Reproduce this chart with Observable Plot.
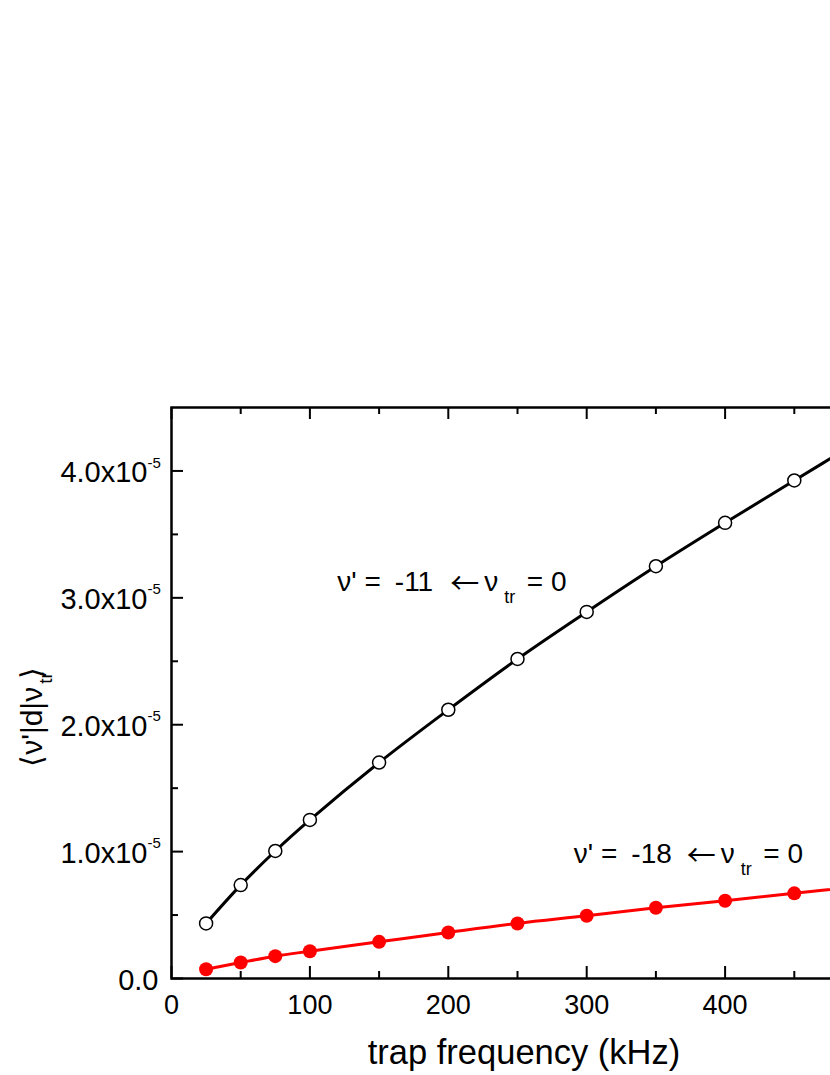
<!DOCTYPE html>
<html><head><meta charset="utf-8">
<script src="https://cdn.jsdelivr.net/npm/d3@7"></script>
<script src="https://cdn.jsdelivr.net/npm/@observablehq/plot@0.6"></script>
<style>
html,body{margin:0;padding:0;background:#fff;overflow:hidden;}
#wrap{width:830px;height:1075px;overflow:hidden;}
</style></head><body><div id="wrap"></div>
<script>
// ---- data (trap frequency in kHz, matrix element) ----
const freq = [25, 50, 75, 100, 150, 200, 250, 300, 350, 400, 450, 500];
const v11 = [0.434e-5, 0.736e-5, 1.005e-5, 1.25e-5, 1.702e-5, 2.118e-5, 2.518e-5, 2.889e-5, 3.249e-5, 3.591e-5, 3.925e-5, 4.255e-5];
const v18 = [0.073e-5, 0.126e-5, 0.176e-5, 0.215e-5, 0.289e-5, 0.363e-5, 0.434e-5, 0.494e-5, 0.557e-5, 0.613e-5, 0.671e-5, 0.732e-5];
const xMajor = [0, 100, 200, 300, 400, 500];
const xMinor = [50, 150, 250, 350, 450];
const xLabelTicks = [0, 100, 200, 300, 400];
const yMajor = [0, 1e-5, 2e-5, 3e-5, 4e-5];
const yMinor = [0.5e-5, 1.5e-5, 2.5e-5, 3.5e-5];
const yTickText = ["0.0", "1.0x10", "2.0x10", "3.0x10", "4.0x10"];
const yTickExp = "-5";
const label11 = ["\u03BD' =", "-11", "\u2190", "\u03BD", "tr", "= 0"];
const label18 = ["\u03BD' =", "-18", "\u2190", "\u03BD", "tr", "= 0"];
const yTitle = ["\u27E8\u03BD'|d|\u03BD", "tr", "\u27E9"];
const xTitle = "trap frequency (kHz)";

const s11 = freq.map((f, i) => ({f, v: v11[i]}));
const s18 = freq.map((f, i) => ({f, v: v18[i]}));

const W = 880, H = 1075, ML = 171, MR = 17, MT = 407, MB = 97;
const FW = W - ML - MR, FH = H - MT - MB;
const font = "'Liberation Sans', Arial, Helvetica, sans-serif";

function annotation(parts, x, y) {
  const offs = [0, 57.5, 113, 147, 167, 189.5];
  return parts.map((p, i) => Plot.text([p], {
    x: () => x, y: () => y, text: d => d,
    textAnchor: "start", lineAnchor: "bottom",
    fontSize: i === 4 ? 18 : i === 2 ? 29 : 28,
    fontFamily: i === 2 ? "'Noto Sans CJK SC', 'DejaVu Sans', sans-serif" : font,
    dx: offs[i], dy: i === 4 ? 11.7 : i === 2 ? 3 : 0, fill: "black"
  }));
}

const chart = Plot.plot({
  width: W, height: H,
  marginLeft: ML, marginRight: MR, marginTop: MT, marginBottom: MB,
  style: {fontFamily: font, background: "white", maxWidth: "none", overflow: "hidden"},
  x: {domain: [0, 500]},
  y: {domain: [0, 4.5e-5]},
  marks: [
    // tick marks (inward) on bottom, top and left
    Plot.ruleX(xMajor, {x: d => d, insetTop: FH - 12, strokeWidth: 2}),
    Plot.ruleX(xMinor, {x: d => d, insetTop: FH - 7, strokeWidth: 2}),
    Plot.ruleX(xMajor, {x: d => d, insetBottom: FH - 12, strokeWidth: 2}),
    Plot.ruleX(xMinor, {x: d => d, insetBottom: FH - 7, strokeWidth: 2}),
    Plot.ruleY(yMajor, {y: d => d, insetRight: FW - 12, strokeWidth: 2}),
    Plot.ruleY(yMinor, {y: d => d, insetRight: FW - 7, strokeWidth: 2}),
    Plot.frame({stroke: "black", strokeWidth: 2.5}),
    // tick labels
    Plot.axisX(xLabelTicks, {tickSize: 0, tickPadding: 16, fontSize: 27, label: null, tickFormat: d => String(d)}),
    Plot.axisY(yMajor.slice(1), {tickSize: 0, tickPadding: 24, fontSize: 29, label: null, dy: 2,
      tickFormat: d => yTickText[yMajor.indexOf(d)]}),
    Plot.axisY([0], {tickSize: 0, tickPadding: 13, fontSize: 29, label: null, dy: 2,
      tickFormat: d => yTickText[yMajor.indexOf(d)]}),
    Plot.text(yMajor.slice(1), {frameAnchor: "left", y: d => d, text: () => yTickExp,
      textAnchor: "start", lineAnchor: "bottom", dx: -24, dy: -3.4, fontSize: 15}),
    // series
    Plot.line(s11, {x: "f", y: "v", stroke: "black", strokeWidth: 3, curve: "catmull-rom"}),
    Plot.dot(s11, {x: "f", y: "v", r: 6.5, fill: "white", stroke: "black", strokeWidth: 1.5}),
    Plot.line(s18, {x: "f", y: "v", stroke: "#ff0000", strokeWidth: 3, curve: "catmull-rom"}),
    Plot.dot(s18, {x: "f", y: "v", r: 7, fill: "#ff0000", stroke: "none"}),
    // annotations
    ...annotation(label11, 119.8, 3.051e-5),
    ...annotation(label18, 290.7, 0.908e-5),
    // axis titles
    Plot.text([xTitle], {x: () => 254.7, frameAnchor: "bottom", text: d => d, dy: 85,
      lineAnchor: "bottom", textAnchor: "middle", fontSize: 34.5}),
    Plot.text([yTitle[0]], {frameAnchor: "left", y: () => 1.668e-5, text: d => d, rotate: -90,
      textAnchor: "start", lineAnchor: "bottom", dx: -130, fontSize: 30}),
    Plot.text([yTitle[1]], {frameAnchor: "left", y: () => 1.668e-5, text: d => d, rotate: -90,
      textAnchor: "start", lineAnchor: "bottom", dx: -120, dy: -83, fontSize: 19}),
    Plot.text([yTitle[2]], {frameAnchor: "left", y: () => 1.668e-5, text: d => d, rotate: -90,
      textAnchor: "start", lineAnchor: "bottom", dx: -130, dy: -88, fontSize: 30})
  ]
});
document.getElementById("wrap").appendChild(chart);
</script>
</body></html>
